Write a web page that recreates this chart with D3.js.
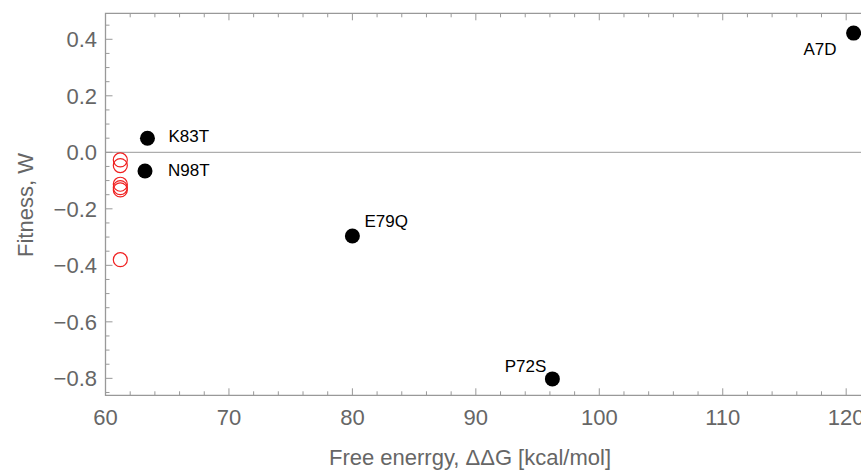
<!DOCTYPE html>
<html>
<head>
<meta charset="utf-8">
<script src="https://cdn.jsdelivr.net/npm/d3@7"></script>
<style>
  body { margin: 0; background: #fff; }
  text { font-family: "Liberation Sans", Arial, sans-serif; }
</style>
</head>
<body>
<svg id="chart"></svg>
<script>
// labelled mutants (black dots)
let names = ["A7D", "K83T", "N98T", "E79Q", "P72S"];
let freeEnergy = [120.6, 63.4, 63.2, 80.0, 96.2];
let fitness = [0.422, 0.05, -0.066, -0.296, -0.802];

// unlabelled mutants (red open circles)
let redEnergy = [61.2, 61.2, 61.2, 61.2, 61.2, 61.2];
let redFitness = [-0.027, -0.047, -0.113, -0.125, -0.133, -0.380];

let xTicks = [60, 70, 80, 90, 100, 110, 120];
let yTicks = [-0.8, -0.6, -0.4, -0.2, 0.0, 0.2, 0.4];

function drawChart() {
  let w = 861, h = 472;
  let left = 105.5, top = 13.3, bottom = 395.3;

  let svg = d3.select("#chart")
    .attr("width", w)
    .attr("height", h);

  let x = d3.scaleLinear().domain([60, 121.2]).range([left, w]);
  let y = d3.scaleLinear().domain([-0.86, 0.492]).range([bottom, top]);

  let frameColor = "#999";
  let labelColor = "#666";

  // zero line
  svg.append("line")
    .attr("x1", left).attr("x2", w)
    .attr("y1", y(0)).attr("y2", y(0))
    .attr("stroke", "#999").attr("stroke-width", 1);

  // minor and major ticks
  let xMinor = d3.range(60, 122, 2);
  let yMinor = d3.range(-0.85, 0.5, 0.05).map(v => Math.round(v * 100) / 100);
  let isMajorX = v => v % 10 === 0;
  let isMajorY = v => Math.abs(Math.round(v * 100) % 20) === 0;

  let ticks = svg.append("g").attr("stroke", frameColor).attr("stroke-width", 1);

  xMinor.forEach(v => {
    let len = isMajorX(v) ? 7 : 4;
    ticks.append("line").attr("x1", x(v)).attr("x2", x(v))
      .attr("y1", bottom).attr("y2", bottom - len);
    ticks.append("line").attr("x1", x(v)).attr("x2", x(v))
      .attr("y1", top).attr("y2", top + len);
  });
  yMinor.forEach(v => {
    let len = isMajorY(v) ? 7 : 4;
    ticks.append("line").attr("x1", left).attr("x2", left + len)
      .attr("y1", y(v)).attr("y2", y(v));
  });

  // frame
  svg.append("path")
    .attr("d", `M${w},${top}H${left}V${bottom}H${w}`)
    .attr("fill", "none")
    .attr("stroke", frameColor)
    .attr("stroke-width", 1.3);

  // tick labels
  svg.selectAll(".xlab")
    .data(xTicks)
    .enter()
    .append("text")
    .attr("x", d => x(d))
    .attr("y", 425)
    .attr("text-anchor", "middle")
    .attr("font-size", 22)
    .attr("fill", labelColor)
    .text(d => d);

  svg.selectAll(".ylab")
    .data(yTicks)
    .enter()
    .append("text")
    .attr("x", 97)
    .attr("y", d => y(d))
    .attr("dy", "0.36em")
    .attr("text-anchor", "end")
    .attr("font-size", 22)
    .attr("fill", labelColor)
    .text(d => d3.format(".1f")(d).replace("-", "\u2212"));

  // axis titles
  svg.append("text")
    .attr("x", 470).attr("y", 465)
    .attr("text-anchor", "middle")
    .attr("font-size", 22)
    .attr("fill", labelColor)
    .text("Free enerrgy, \u0394\u0394G [kcal/mol]");

  svg.append("text")
    .attr("transform", "translate(33,205) rotate(-90)")
    .attr("text-anchor", "middle")
    .attr("font-size", 22)
    .attr("fill", labelColor)
    .text("Fitness, W");

  // red open circles
  svg.selectAll(".red")
    .data(redEnergy)
    .enter()
    .append("circle")
    .attr("cx", d => x(d))
    .attr("cy", (d, i) => y(redFitness[i]))
    .attr("r", 7)
    .attr("fill", "none")
    .attr("stroke", "#f02020")
    .attr("stroke-width", 1.2);

  // black dots
  svg.selectAll(".dot")
    .data(freeEnergy)
    .enter()
    .append("circle")
    .attr("cx", d => x(d))
    .attr("cy", (d, i) => y(fitness[i]))
    .attr("r", 7.5)
    .attr("fill", "#000");

  // label offsets relative to each dot
  let offsets = {
    "A7D": [-17, 22, "end"],
    "K83T": [21, 3.5, "start"],
    "N98T": [23, 5, "start"],
    "E79Q": [12, -9, "start"],
    "P72S": [-6, -7, "end"]
  };

  svg.selectAll(".name")
    .data(names)
    .enter()
    .append("text")
    .attr("x", (d, i) => x(freeEnergy[i]) + offsets[d][0])
    .attr("y", (d, i) => y(fitness[i]) + offsets[d][1])
    .attr("text-anchor", d => offsets[d][2])
    .attr("font-size", 17)
    .attr("fill", "#000")
    .text(d => d);
}

window.onload = function() {
  drawChart();
}
</script>
</body>
</html>
